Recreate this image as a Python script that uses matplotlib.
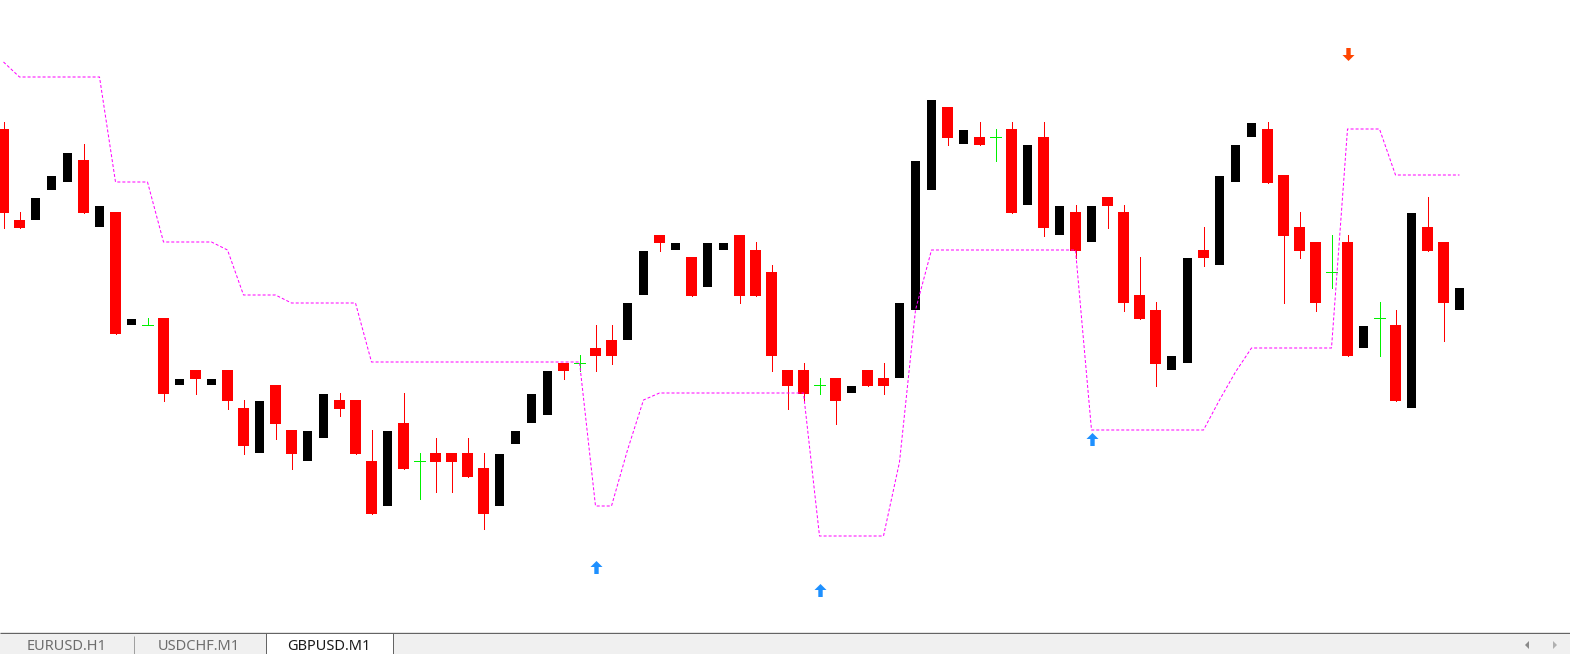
import matplotlib
matplotlib.use("Agg")
import matplotlib.pyplot as plt
from matplotlib.path import Path
from matplotlib.patches import Rectangle, Polygon

# ---------------- data (GBPUSD M1) ----------------
candle_open = [1.27871, 1.27780, 1.27780, 1.27810, 1.27818, 1.27840, 1.27773, 1.27788, 1.27675, 1.27675,
               1.27682, 1.27615, 1.27630, 1.27615, 1.27630, 1.27592, 1.27547, 1.27615, 1.27570, 1.27539,
               1.27562, 1.27600, 1.27600, 1.27539, 1.27494, 1.27577, 1.27539, 1.27547, 1.27547, 1.27547,
               1.27532, 1.27494, 1.27556, 1.27577, 1.27585, 1.27637, 1.27637, 1.27652, 1.27660, 1.27660,
               1.27705, 1.27765, 1.27750, 1.27743, 1.27713, 1.27750, 1.27765, 1.27750, 1.27728, 1.27630,
               1.27630, 1.27615, 1.27622, 1.27607, 1.27630, 1.27622, 1.27622, 1.27690, 1.27810, 1.27893,
               1.27856, 1.27863, 1.27863, 1.27871, 1.27795, 1.27863, 1.27765, 1.27788, 1.27758, 1.27803,
               1.27788, 1.27705, 1.27690, 1.27630, 1.27637, 1.27750, 1.27735, 1.27818, 1.27863, 1.27871,
               1.27825, 1.27773, 1.27758, 1.27728, 1.27758, 1.27652, 1.27682, 1.27675, 1.27592, 1.27773,
               1.27758, 1.27690]
candle_high = [1.27878, 1.27788, 1.27802, 1.27824, 1.27847, 1.27856, 1.27794, 1.27788, 1.27681, 1.27682,
               1.27682, 1.27621, 1.27630, 1.27621, 1.27630, 1.27600, 1.27599, 1.27615, 1.27570, 1.27569,
               1.27606, 1.27607, 1.27600, 1.27570, 1.27569, 1.27607, 1.27547, 1.27562, 1.27547, 1.27562,
               1.27547, 1.27546, 1.27569, 1.27606, 1.27629, 1.27637, 1.27645, 1.27675, 1.27675, 1.27697,
               1.27749, 1.27765, 1.27757, 1.27743, 1.27757, 1.27757, 1.27765, 1.27758, 1.27735, 1.27630,
               1.27637, 1.27622, 1.27622, 1.27614, 1.27630, 1.27637, 1.27697, 1.27839, 1.27900, 1.27893,
               1.27870, 1.27878, 1.27871, 1.27878, 1.27855, 1.27878, 1.27794, 1.27795, 1.27794, 1.27803,
               1.27795, 1.27743, 1.27698, 1.27644, 1.27742, 1.27773, 1.27824, 1.27855, 1.27877, 1.27878,
               1.27825, 1.27788, 1.27758, 1.27765, 1.27765, 1.27674, 1.27698, 1.27690, 1.27787, 1.27803,
               1.27758, 1.27712]
candle_low = [1.27772, 1.27772, 1.27780, 1.27810, 1.27818, 1.27787, 1.27773, 1.27666, 1.27675, 1.27675,
              1.27599, 1.27615, 1.27606, 1.27615, 1.27591, 1.27546, 1.27547, 1.27561, 1.27531, 1.27539,
              1.27562, 1.27584, 1.27546, 1.27486, 1.27494, 1.27531, 1.27501, 1.27508, 1.27508, 1.27523,
              1.27471, 1.27494, 1.27556, 1.27577, 1.27585, 1.27621, 1.27629, 1.27629, 1.27636, 1.27660,
              1.27705, 1.27749, 1.27750, 1.27704, 1.27713, 1.27750, 1.27697, 1.27704, 1.27629, 1.27591,
              1.27599, 1.27606, 1.27576, 1.27607, 1.27614, 1.27606, 1.27622, 1.27690, 1.27810, 1.27855,
              1.27856, 1.27855, 1.27839, 1.27787, 1.27795, 1.27764, 1.27765, 1.27742, 1.27758, 1.27772,
              1.27689, 1.27681, 1.27614, 1.27630, 1.27637, 1.27734, 1.27735, 1.27818, 1.27863, 1.27817,
              1.27697, 1.27742, 1.27689, 1.27712, 1.27644, 1.27652, 1.27644, 1.27599, 1.27592, 1.27749,
              1.27659, 1.27690]
candle_close = [1.27787, 1.27772, 1.27802, 1.27824, 1.27847, 1.27787, 1.27794, 1.27666, 1.27681, 1.27675,
                1.27606, 1.27621, 1.27621, 1.27621, 1.27599, 1.27554, 1.27599, 1.27576, 1.27546, 1.27569,
                1.27606, 1.27591, 1.27546, 1.27486, 1.27569, 1.27531, 1.27539, 1.27538, 1.27538, 1.27523,
                1.27486, 1.27546, 1.27569, 1.27606, 1.27629, 1.27629, 1.27637, 1.27644, 1.27644, 1.27697,
                1.27749, 1.27757, 1.27757, 1.27704, 1.27757, 1.27757, 1.27704, 1.27704, 1.27644, 1.27614,
                1.27606, 1.27615, 1.27599, 1.27614, 1.27614, 1.27614, 1.27697, 1.27839, 1.27900, 1.27862,
                1.27870, 1.27855, 1.27863, 1.27787, 1.27855, 1.27772, 1.27794, 1.27749, 1.27794, 1.27794,
                1.27697, 1.27681, 1.27636, 1.27644, 1.27742, 1.27742, 1.27824, 1.27855, 1.27877, 1.27817,
                1.27764, 1.27749, 1.27697, 1.27728, 1.27644, 1.27674, 1.27682, 1.27599, 1.27787, 1.27749,
                1.27697, 1.27712]

# trailing indicator line (one value per bar)
stop_line = [1.27938,
             1.27923, 1.27923, 1.27923, 1.27923, 1.27923, 1.27923,
             1.27818, 1.27818, 1.27818,
             1.27758, 1.27758, 1.27758, 1.27758,
             1.27750,
             1.27705, 1.27705, 1.27705,
             1.27697, 1.27697, 1.27697, 1.27697, 1.27697,
             1.27638, 1.27638, 1.27638, 1.27638, 1.27638, 1.27638, 1.27638,
             1.27638, 1.27638, 1.27638, 1.27638, 1.27638, 1.27638, 1.27638,
             1.27494, 1.27494,
             1.27550,
             1.27600,
             1.27607, 1.27607, 1.27607, 1.27607, 1.27607, 1.27607, 1.27607, 1.27607, 1.27607, 1.27607,
             1.27464, 1.27464, 1.27464, 1.27464, 1.27464,
             1.27538,
             1.27690,
             1.27750, 1.27750, 1.27750, 1.27750, 1.27750, 1.27750, 1.27750, 1.27750, 1.27750, 1.27750,
             1.27570, 1.27570, 1.27570, 1.27570, 1.27570, 1.27570, 1.27570, 1.27570,
             1.27600,
             1.27628,
             1.27652, 1.27652, 1.27652, 1.27652, 1.27652, 1.27652,
             1.27871, 1.27871, 1.27871,
             1.27825, 1.27825, 1.27825, 1.27825, 1.27825]

buy_arrow_bar = [37, 51, 68]
buy_arrow_price = [1.27433, 1.27410, 1.27561]
sell_arrow_bar = [84]
sell_arrow_price = [1.27946]

tab_labels = ["EURUSD.H1", "USDCHF.M1", "GBPUSD.M1"]
active_tab = 2

# ---------------- figure ----------------
W, H = 1570, 654
CHART_H = 631
BAR_PX = 16.0
X0_PX = 3.5

fig = plt.figure(figsize=(W / 100, H / 100), dpi=100, facecolor="white")
ax = fig.add_axes([0, (H - CHART_H) / H, 1, CHART_H / H])
ax.set_facecolor("white")
for s in ax.spines.values():
    s.set_visible(False)
ax.set_xticks([])
ax.set_yticks([])

ax.set_xlim(-X0_PX / BAR_PX, (W - X0_PX) / BAR_PX)
ax.set_ylim(1.28 - CHART_H * 1e-5, 1.28)

PX = 0.72  # one pixel in points
RED = "#FF0000"
BLK = "#000000"
GRN = "#00F000"

red_w = 11 / BAR_PX
blk_w = 9 / BAR_PX
for i in range(len(candle_open)):
    o, h, l, c = candle_open[i], candle_high[i], candle_low[i], candle_close[i]
    if c < o:
        ax.vlines(i, l, h, color=RED, lw=PX, zorder=2, antialiased=False)
        ax.bar(i, o - c, bottom=c, width=red_w, color=RED, lw=0, zorder=3)
    elif c > o:
        ax.bar(i, c - o, bottom=o, width=blk_w, color=BLK, lw=0, zorder=3)
    else:
        ax.vlines(i, l, h, color=GRN, lw=PX, zorder=2, antialiased=False)
        ax.hlines(o, i - red_w / 2, i + red_w / 2, color=GRN, lw=PX, zorder=3, antialiased=False)

ax.plot(range(len(stop_line)), stop_line, color="#FF00FF", lw=PX,
        ls=(0, (3, 2)), zorder=4)

up_path = Path([(0, 6.5), (6, 0.5), (2.2, 0.5), (2.2, -6.5), (-2.2, -6.5), (-2.2, 0.5), (-6, 0.5), (0, 6.5)],
               [Path.MOVETO] + [Path.LINETO] * 6 + [Path.CLOSEPOLY])
down_path = Path([(0, -6.5), (6, -0.5), (2.2, -0.5), (2.2, 6.5), (-2.2, 6.5), (-2.2, -0.5), (-6, -0.5), (0, -6.5)],
                 [Path.MOVETO] + [Path.LINETO] * 6 + [Path.CLOSEPOLY])
ax.plot(buy_arrow_bar, buy_arrow_price, ls="none", marker=up_path, markersize=13 * PX,
        color="#1E90FF", markeredgewidth=0, zorder=5)
ax.plot(sell_arrow_bar, sell_arrow_price, ls="none", marker=down_path, markersize=13 * PX,
        color="#FF4500", markeredgewidth=0, zorder=5)

# ---------------- tab bar ----------------
tb = fig.add_axes([0, 0, 1, 24 / H])
tb.set_xlim(0, W)
tb.set_ylim(H, H - 24)
tb.axis("off")
tb.add_patch(Rectangle((0, 633), W, 21, facecolor="#F0F0F0", edgecolor="none"))
tb.hlines(631.5, 0, W, color="#E3E3E3", lw=PX)
tb.hlines(633, 0, W, color="#646464", lw=PX)
tab_x = [(0, 133), (133, 265.5), (265.5, 392.5)]
for k, (xa, xb) in enumerate(tab_x):
    if k == active_tab:
        tb.add_patch(Rectangle((xa, 632.5), xb - xa, 22, facecolor="white", edgecolor="none"))
        tb.vlines([xa, xb], 632.5, H, color="#646464", lw=PX)
        tb.hlines(632.5, xa, xb, color="#646464", lw=PX)
        col = "#1A1A1A"
    else:
        col = "#6D6D6D"
    tb.text((xa + xb) / 2, 653.8, tab_labels[k], ha="center", va="bottom",
            fontsize=10.5, family="Noto Sans", color=col)
tb.vlines(133.5, 636, H, color="#A0A0A0", lw=PX)
tb.add_patch(Polygon([(1525, 645), (1529, 641), (1529, 649)], closed=True,
                     facecolor="#8A8A8A", edgecolor="none"))
tb.add_patch(Polygon([(1557, 645), (1553, 641), (1553, 649)], closed=True,
                     facecolor="#B0B0B0", edgecolor="none"))

fig.savefig("out.png", dpi=100, facecolor="white")
